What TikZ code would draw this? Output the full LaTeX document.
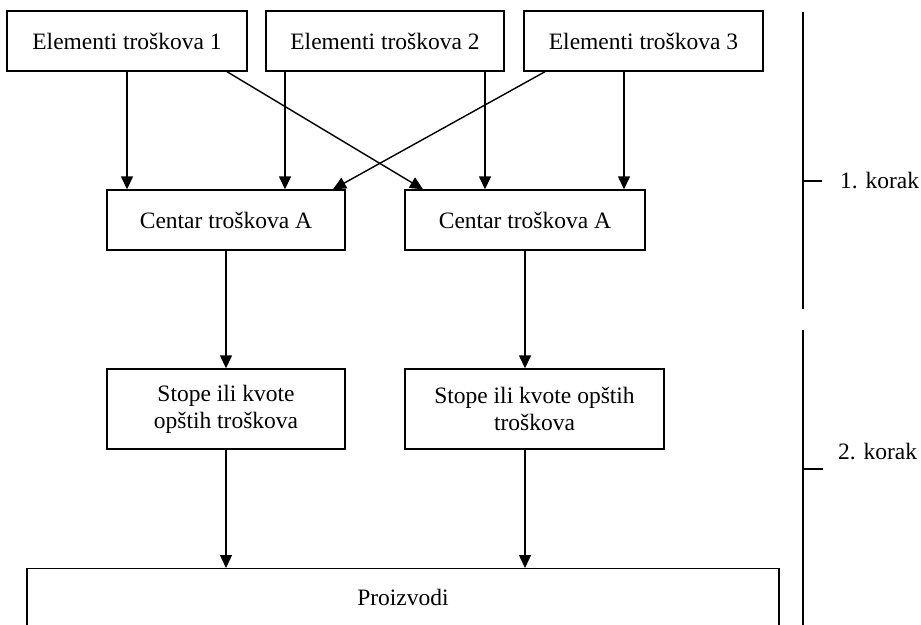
\documentclass[tikz,border=0pt]{standalone}
\usepackage{fontspec}
\setmainfont{Liberation Serif}
\usetikzlibrary{positioning, arrows.meta, calc}

\begin{document}
\begin{tikzpicture}[x=1pt, y=-1pt,
    box/.style={draw, line width=1.4pt, minimum height=60pt, inner sep=0pt, align=center, font=\fontsize{23.5}{27}\selectfont},
    arr/.style={-{Triangle[length=13pt,width=12pt]}, line width=1.4pt},
    lbl/.style={inner sep=0pt, anchor=west, font=\fontsize{23.5}{27}\selectfont}]
            \clip (0,0) rectangle (921,624);

            \node[box, minimum width=240pt] (e1) at (127,41) {Elementi troškova 1};
            \node[box, minimum width=238pt] (e2) at (385,41) {Elementi troškova 2};
            \node[box, minimum width=239pt] (e3) at (643.5,41) {Elementi troškova 3};
            \node[box, minimum width=238pt] (a1) at (226,220) {Centar troškova A};
            \node[box, minimum width=240pt] (a2) at (525,220) {Centar troškova A};
            \node[box, minimum width=238pt, minimum height=80pt] (s1) at (226,409) {Stope ili kvote\\opštih troškova};
            \node[box, minimum width=259pt, minimum height=80pt] (s2) at (534.5,409) {Stope ili kvote opštih\\troškova};
            \node[box, minimum width=752pt, anchor=north, text height=25pt, text depth=40pt, inner ysep=12pt] (p) at (403,568) {Proizvodi};

            \draw[arr] (e1) -- (e1 |- a1.north);
            \draw[arr] ([xshift=-100pt]e2.south) -- ([xshift=-100pt]e2.south |- a1.north);
            \draw[arr] ([xshift=100pt]e2.south) -- ([xshift=100pt]e2.south |- a2.north);
            \draw[arr] ([xshift=-19.5pt]e3.south) -- ([xshift=-19.5pt]e3.south |- a2.north);
            \draw[arr] ([xshift=100pt]e1.south) -- ([xshift=-102pt]a2.north);
            \draw[arr] ([xshift=-98.5pt]e3.south) -- ([xshift=107pt]a1.north);
            \draw[arr] (a1) -- (s1);
            \draw[arr] (a2) -- (a2 |- s2.north);
            \draw[arr] (s1) -- (s1 |- p.north);
            \draw[arr] (a2 |- s2.south) -- (a2 |- p.north);

            % korak 1 and 2
            \coordinate (k1t) at (803,12);
            \coordinate (k1b) at (803,309);
            \coordinate (k1m) at (803,181);
            \coordinate (k2t) at (803,330);
            \coordinate (k2b) at (803,640);
            \coordinate (k2m) at (803,469);
            \node[lbl] (k1) at (840,181) {1. korak};
            \node[lbl] (k2) at (838,452) {2. korak};
            \draw[line width=1.4pt] (k1t) -- (k1b);
            \draw[line width=1.4pt] (k1m) -- ++(19,0);
            \draw[line width=1.4pt] (k2t) -- (k2b);
            \draw[line width=1.4pt] (k2m) -- ++(20,0);
\end{tikzpicture}
\end{document}
